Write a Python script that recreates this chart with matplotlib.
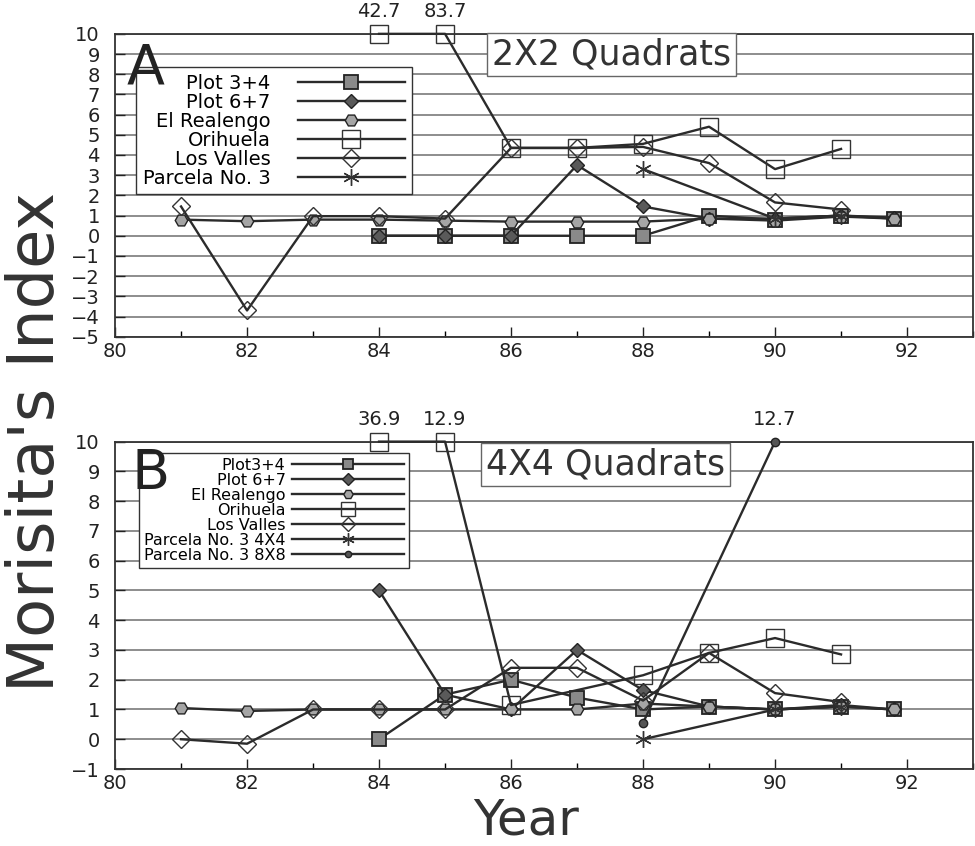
import matplotlib
matplotlib.use("Agg")
import matplotlib.pyplot as plt
import numpy as np
from matplotlib.ticker import MultipleLocator

# --- Panel A: 2X2 quadrats ---
a_years_plot34 = [84, 85, 86, 87, 88, 89, 90, 91, 91.8]
a_plot34 = [0, 0, 0, 0, 0, 1.0, 0.8, 1.0, 0.85]
a_years_plot67 = [84, 85, 86, 87, 88, 89, 90, 91, 91.8]
a_plot67 = [0, 0, 0, 3.5, 1.45, 0.85, 0.85, 1.0, 0.9]
a_years_realengo = [81, 82, 83, 84, 85, 86, 87, 88, 89, 90, 91, 91.8]
a_realengo = [0.8, 0.72, 0.8, 0.8, 0.75, 0.7, 0.7, 0.7, 0.85, 0.75, 0.95, 0.85]
a_years_orihuela = [84, 85, 86, 87, 88, 89, 90, 91]
a_orihuela = [42.7, 83.7, 4.35, 4.35, 4.55, 5.4, 3.3, 4.3]
a_years_valles = [81, 82, 83, 84, 85, 86, 87, 88, 89, 90, 91]
a_valles = [1.45, -3.7, 0.97, 0.97, 0.85, 4.35, 4.35, 4.4, 3.6, 1.65, 1.3]
a_years_parcela = [88, 90, 91]
a_parcela = [3.3, 0.85, 1.0]

# --- Panel B: 4X4 quadrats ---
b_years_plot34 = [84, 85, 86, 87, 88, 89, 90, 91, 91.8]
b_plot34 = [0, 1.5, 2.0, 1.4, 1.0, 1.1, 1.0, 1.1, 1.0]
b_years_plot67 = [84, 85, 86, 87, 88, 89, 90, 91, 91.8]
b_plot67 = [5.0, 1.5, 1.0, 3.0, 1.65, 1.1, 1.0, 1.15, 1.0]
b_years_realengo = [81, 82, 83, 84, 85, 86, 87, 88, 89, 90, 91, 91.8]
b_realengo = [1.05, 0.95, 1.0, 1.0, 1.0, 1.0, 1.0, 1.2, 1.1, 1.0, 1.1, 1.0]
b_years_orihuela = [84, 85, 86, 88, 89, 90, 91]
b_orihuela = [36.9, 12.9, 1.15, 2.15, 2.9, 3.4, 2.85]
b_years_valles = [81, 82, 83, 84, 85, 86, 87, 88, 89, 90, 91]
b_valles = [0.0, -0.15, 1.0, 1.0, 1.0, 2.4, 2.4, 1.3, 2.9, 1.55, 1.25]
b_years_parc4 = [88, 90, 91]
b_parc4 = [0.0, 1.0, 1.1]
b_years_parc8 = [88, 90]
b_parc8 = [0.55, 12.7]

YMAX = 10
LINE = "#2b2b2b"
GRID = "#7a7a7a"

STYLE = {
    "plot34": dict(marker="s", ms=10, mfc="#8a8a8a", mec="#222222", mew=1.3),
    "plot67": dict(marker="D", ms=7.5, mfc="#5a5a5a", mec="#222222", mew=1.0),
    "realengo": dict(marker="H", ms=9, mfc="#a5a5a5", mec="#222222", mew=1.0),
    "orihuela": dict(marker="s", ms=13, mfc="none", mec="#333333", mew=1.0),
    "valles": dict(marker="D", ms=9, mfc="none", mec="#333333", mew=1.0),
    "parcela": dict(marker=(6, 2, 0), ms=12, mec="#333333", mew=1.0),
    "parcela8": dict(marker="o", ms=6, mfc="#555555", mec="#222222", mew=1.0),
}


def draw(ax, x, y, label, key):
    y = np.asarray(y, dtype=float)
    ax.plot(x, np.minimum(y, YMAX), color=LINE, lw=1.7, label=label,
            clip_on=False, zorder=3, **STYLE[key])
    # values beyond the axis are written above the top edge
    for xi, yi in zip(x, y):
        if yi > YMAX:
            ax.annotate(f"{yi:.1f}", (xi, YMAX), xytext=(0, 9),
                        textcoords="offset points", ha="center", va="bottom",
                        fontsize=14, color="#222222")


def style_axes(ax, ymin):
    ax.set_xlim(80, 93)
    ax.set_ylim(ymin, YMAX)
    ax.xaxis.set_minor_locator(MultipleLocator(1))
    ax.yaxis.set_major_locator(MultipleLocator(1))
    ax.set_xticks(np.arange(80, 93, 2))
    ax.grid(axis="y", color=GRID, lw=1.2)
    ax.set_axisbelow(True)
    ax.tick_params(axis="both", which="major", direction="in", labelsize=14,
                   length=7, width=1.0, colors="#222222")
    ax.tick_params(axis="x", which="minor", direction="in", length=4, width=1.0)
    ax.tick_params(axis="y", pad=11)
    for s in ax.spines.values():
        s.set_color("#333333")
        s.set_linewidth(1.3)


fig = plt.figure(figsize=(9.75, 8.46), dpi=100)
axA = fig.add_axes([0.118, 0.602, 0.880, 0.358])
axB = fig.add_axes([0.118, 0.091, 0.880, 0.387])

# Panel A
draw(axA, a_years_plot34, a_plot34, "Plot 3+4", "plot34")
draw(axA, a_years_plot67, a_plot67, "Plot 6+7", "plot67")
draw(axA, a_years_realengo, a_realengo, "El Realengo", "realengo")
draw(axA, a_years_orihuela, a_orihuela, "Orihuela", "orihuela")
draw(axA, a_years_valles, a_valles, "Los Valles", "valles")
draw(axA, a_years_parcela, a_parcela, "Parcela No. 3", "parcela")
style_axes(axA, -5)

legA = axA.legend(loc="upper left", bbox_to_anchor=(0.0245, 0.891),
                  borderaxespad=0, markerfirst=False, fontsize=14,
                  handlelength=5.5, handletextpad=1.4, labelspacing=0.0,
                  borderpad=0.35, fancybox=False, framealpha=1,
                  edgecolor="#333333")
legA.get_frame().set_linewidth(1.0)
axA.text(0.014, 0.975, "A", transform=axA.transAxes, fontsize=40,
         ha="left", va="top", color="#222222", zorder=10)
axA.text(0.579, 0.932, "2X2 Quadrats", transform=axA.transAxes, fontsize=25,
         ha="center", va="center", color="#333333", zorder=6,
         bbox=dict(boxstyle="square,pad=0.14", fc="white", ec="#666666", lw=1.0))

# Panel B
draw(axB, b_years_plot34, b_plot34, "Plot3+4", "plot34")
draw(axB, b_years_plot67, b_plot67, "Plot 6+7", "plot67")
draw(axB, b_years_realengo, b_realengo, "El Realengo", "realengo")
draw(axB, b_years_orihuela, b_orihuela, "Orihuela", "orihuela")
draw(axB, b_years_valles, b_valles, "Los Valles", "valles")
draw(axB, b_years_parc4, b_parc4, "Parcela No. 3 4X4", "parcela")
draw(axB, b_years_parc8, b_parc8, "Parcela No. 3 8X8", "parcela8")
style_axes(axB, -1)

legB = axB.legend(loc="upper left", bbox_to_anchor=(0.028, 0.965),
                  borderaxespad=0, markerfirst=False, fontsize=11.5,
                  handlelength=7.0, handletextpad=0.4, labelspacing=0.0,
                  borderpad=0.3, fancybox=False, framealpha=1,
                  edgecolor="#333333", markerscale=0.75)
legB.get_frame().set_linewidth(1.0)
axB.text(0.019, 0.985, "B", transform=axB.transAxes, fontsize=40,
         ha="left", va="top", color="#222222", zorder=10)
axB.text(0.572, 0.930, "4X4 Quadrats", transform=axB.transAxes, fontsize=25,
         ha="center", va="center", color="#333333", zorder=6,
         bbox=dict(boxstyle="square,pad=0.14", fc="white", ec="#666666", lw=1.0))

fig.text(0.037, 0.478, "Morisita's Index", rotation=90, fontsize=46,
         ha="center", va="center", color="#333333")
fig.text(0.54, 0.03, "Year", fontsize=36, ha="center", va="center",
         color="#333333")

fig.savefig("out.png", dpi=100)
